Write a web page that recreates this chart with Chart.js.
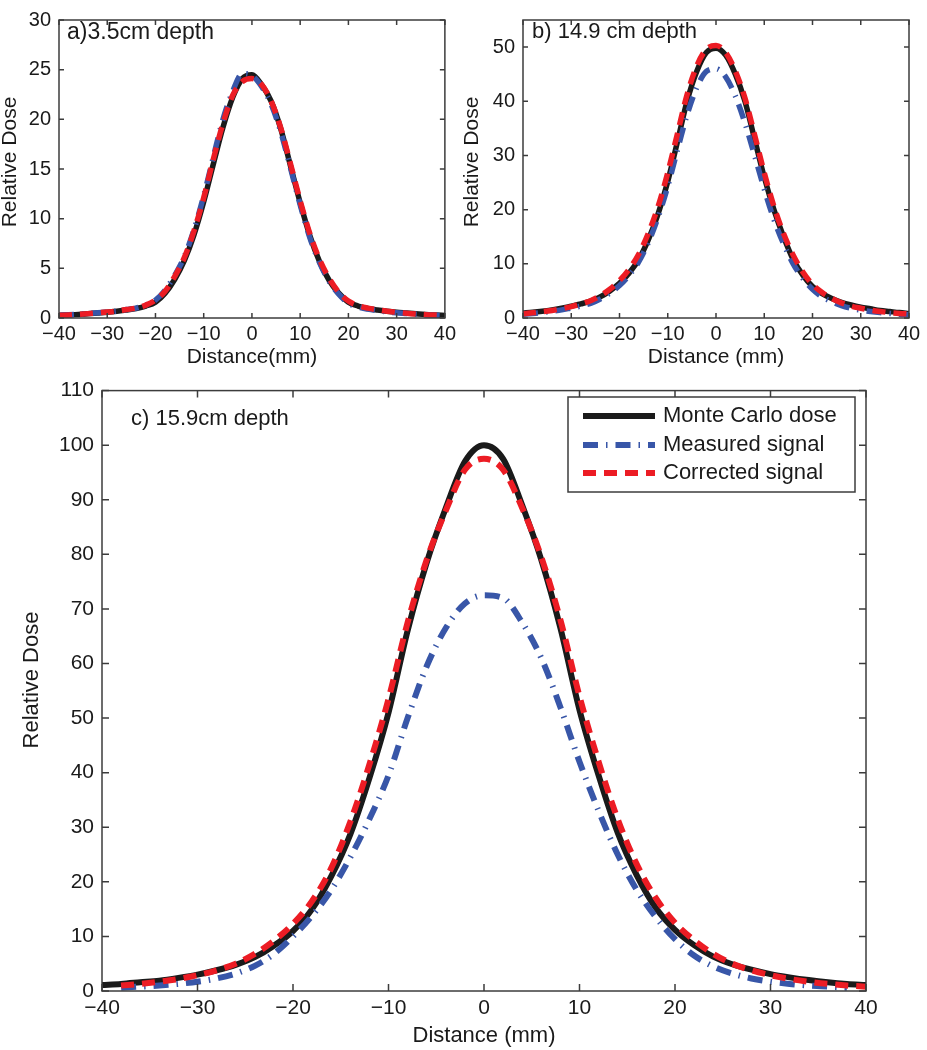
<!DOCTYPE html>
<html lang="en">
<head>
<meta charset="UTF-8">
<title>Relative dose profiles</title>
<script src="https://cdn.jsdelivr.net/npm/chart.js@4.4.0/dist/chart.umd.min.js"></script>
<style>
  body { margin: 0; background: #fff; }
  #wrap { position: relative; width: 927px; height: 1050px; }
  canvas { position: absolute; }
</style>
</head>
<body>
<div id="wrap">
  <canvas id="chartA" width="460" height="370" style="left:0;top:0"></canvas>
  <canvas id="chartB" width="467" height="370" style="left:460px;top:0"></canvas>
  <canvas id="chartC" width="927" height="680" style="left:0;top:370px"></canvas>
</div>
<script>
// distance (mm), shared by every curve
const distance = [-40,-38,-36,-34,-32,-30,-28,-26,-24,-22,-20,-18,-16,-14,-12,-10,-8,-6,-4,-2,0,
                  2,4,6,8,10,12,14,16,18,20,22,24,26,28,30,32,34,36,38,40];

// a) 3.5 cm depth
const aMonteCarlo = [0.25,0.3,0.36,0.42,0.5,0.58,0.68,0.8,0.95,1.2,1.6,2.5,3.9,5.8,8.4,11.7,15.5,19.2,22.2,24.1,24.5,
                     23.5,21.8,19.0,15.3,11.6,8.3,5.7,3.8,2.5,1.6,1.2,0.95,0.8,0.68,0.58,0.5,0.42,0.36,0.3,0.25];
const aMeasured   = [0.28,0.32,0.38,0.45,0.52,0.6,0.7,0.85,1.0,1.3,1.8,2.8,4.3,6.2,8.9,12.3,16.2,20.0,22.8,24.6,24.4,
                     23.3,21.5,18.7,15.1,11.4,8.1,5.6,3.7,2.4,1.5,1.1,0.9,0.75,0.62,0.52,0.45,0.38,0.32,0.27,0.23];
const aCorrected  = [0.27,0.31,0.37,0.44,0.52,0.6,0.7,0.85,1.0,1.3,1.8,2.7,4.2,6.1,8.8,12.1,16.0,19.6,22.4,23.8,24.1,
                     23.5,21.8,19.1,15.5,11.8,8.5,5.9,4.0,2.6,1.7,1.25,1.0,0.82,0.68,0.58,0.48,0.4,0.34,0.3,0.27];

// b) 14.9 cm depth
const bMonteCarlo = [0.9,1.05,1.25,1.5,1.8,2.2,2.6,3.1,3.9,5.0,6.4,8.3,10.8,14.5,19.2,25.2,32.5,40.0,45.5,49.0,49.8,
                     48.5,45.0,40.0,33.0,26.0,20.0,15.0,10.8,7.9,5.8,4.5,3.6,2.9,2.4,2.0,1.7,1.4,1.2,1.0,0.85];
const bMeasured   = [0.7,0.85,1.0,1.25,1.5,1.85,2.2,2.7,3.5,4.6,6.0,7.9,10.4,14.0,18.6,24.3,31.0,37.5,42.5,45.5,46.0,
                     44.5,41.0,36.0,30.0,23.8,18.2,13.7,10.0,7.3,5.3,3.9,3.0,2.3,1.8,1.45,1.2,1.0,0.85,0.7,0.6];
const bCorrected  = [0.8,0.95,1.15,1.4,1.7,2.1,2.6,3.2,4.1,5.3,6.9,9.0,11.8,15.7,20.6,26.8,34.0,41.2,46.5,49.6,50.3,
                     49.0,45.6,40.6,33.8,26.8,20.6,15.6,11.6,8.5,6.2,4.7,3.6,2.8,2.2,1.8,1.45,1.2,1.0,0.85,0.75];

// c) 15.9 cm depth
const cMonteCarlo = [1.1,1.3,1.6,1.9,2.4,3.0,3.8,4.8,6.2,8.3,11.0,15.0,21.0,28.7,39.0,51.0,66.0,78.5,88.5,97.0,100,
                     97.5,89.0,79.0,66.5,51.5,39.5,29.0,21.2,15.2,11.2,8.4,6.3,4.9,3.9,3.1,2.5,2.0,1.6,1.3,1.1];
const cMeasured   = [null,0.6,0.8,1.0,1.3,1.7,2.3,3.2,4.6,6.8,10.0,13.8,18.5,24.5,31.5,39.5,50.0,59.5,66.5,71.0,72.5,
                     72.0,67.5,61.0,52.0,42.0,33.0,25.0,18.5,13.5,9.5,6.5,4.5,3.2,2.3,1.7,1.3,1.0,0.8,0.6,null];
const cCorrected  = [null,1.0,1.3,1.7,2.2,2.9,3.8,5.0,6.8,9.2,12.3,16.5,22.5,31.0,41.5,53.5,67.5,79.0,88.0,95.5,97.5,
                     95.5,88.5,79.5,68.0,54.0,42.0,31.5,23.2,17.0,12.5,9.3,6.8,5.0,3.8,2.9,2.2,1.7,1.3,1.0,0.8];

const xTicks = [-40, 40, 10];           // min, max, step
const FONT = "'Liberation Sans', Arial, sans-serif";
const INK = '#1a1a1a';

const seriesStyle = [
  { label: 'Monte Carlo dose', color: '#1a1a1a', dash: [],             order: 3 },
  { label: 'Measured signal',  color: '#3856a8', dash: [15, 8, 1.5, 8], order: 2 },
  { label: 'Corrected signal', color: '#ec1c24', dash: [13, 8],         order: 1 }
];

// MATLAB-like box with inward ticks, axis titles, panel label and legend
const matlabBox = {
  id: 'matlabBox',
  afterDatasetsDraw(chart, args, o) {
    const ctx = chart.ctx, a = chart.chartArea;
    const x = chart.scales.x, y = chart.scales.y;
    ctx.save();
    ctx.strokeStyle = '#3c3c3c';
    ctx.lineWidth = 1.5;
    ctx.setLineDash([]);
    ctx.strokeRect(a.left, a.top, a.right - a.left, a.bottom - a.top);
    ctx.beginPath();
    x.ticks.forEach(t => {
      const px = x.getPixelForValue(t.value);
      ctx.moveTo(px, a.bottom); ctx.lineTo(px, a.bottom - o.tick);
      ctx.moveTo(px, a.top);    ctx.lineTo(px, a.top + o.tick);
    });
    y.ticks.forEach(t => {
      const py = y.getPixelForValue(t.value);
      ctx.moveTo(a.left, py);  ctx.lineTo(a.left + o.tick, py);
      ctx.moveTo(a.right, py); ctx.lineTo(a.right - o.tick, py);
    });
    ctx.stroke();

    ctx.fillStyle = INK;
    ctx.textAlign = 'center';
    ctx.textBaseline = 'middle';
    ctx.font = o.titleSize + 'px ' + FONT;
    ctx.fillText(o.xTitle, o.xTitleAt[0], o.xTitleAt[1]);
    ctx.save();
    ctx.translate(o.yTitleAt[0], o.yTitleAt[1]);
    ctx.rotate(-Math.PI / 2);
    ctx.fillText('Relative Dose', 0, 0);
    ctx.restore();

    ctx.textAlign = 'left';
    ctx.font = o.labelSize + 'px ' + FONT;
    ctx.fillText(o.label, o.labelAt[0], o.labelAt[1]);

    if (o.legend) {
      const L = o.legend;
      ctx.fillStyle = '#fff';
      ctx.fillRect(L.left, L.top, L.right - L.left, L.bottom - L.top);
      ctx.strokeStyle = '#3c3c3c';
      ctx.lineWidth = 1.5;
      ctx.strokeRect(L.left, L.top, L.right - L.left, L.bottom - L.top);
      chart.data.datasets.forEach((ds, i) => {
        const ry = L.rows[i];
        ctx.beginPath();
        ctx.strokeStyle = ds.borderColor;
        ctx.lineWidth = ds.borderWidth;
        ctx.setLineDash(ds.borderDash);
        ctx.moveTo(L.lineX[0], ry);
        ctx.lineTo(L.lineX[1], ry);
        ctx.stroke();
        ctx.setLineDash([]);
        ctx.fillStyle = INK;
        ctx.font = '22px ' + FONT;
        ctx.fillText(ds.label, L.textX, ry);
      });
    }
    ctx.restore();
  }
};

function makeChart(id, curves, cfg) {
  const datasets = curves.map((vals, i) => ({
    label: seriesStyle[i].label,
    data: distance.map((d, k) => ({ x: d, y: vals[k] })).filter(p => p.y !== null),
    borderColor: seriesStyle[i].color,
    borderWidth: cfg.widths[i],
    borderDash: seriesStyle[i].dash,
    borderCapStyle: 'butt',
    order: seriesStyle[i].order,
    pointRadius: 0,
    cubicInterpolationMode: 'monotone',
    fill: false
  }));
  return new Chart(document.getElementById(id), {
    type: 'line',
    data: { datasets: datasets },
    plugins: [matlabBox],
    options: {
      responsive: false,
      animation: false,
      events: [],
      layout: { padding: cfg.padding },
      plugins: {
        legend: { display: false },
        tooltip: { enabled: false },
        matlabBox: cfg.box
      },
      scales: {
        x: {
          type: 'linear',
          min: xTicks[0], max: xTicks[1],
          grid: { display: false, drawTicks: false },
          border: { display: false },
          afterFit: s => { s.height = cfg.xHeight; },
          ticks: {
            stepSize: xTicks[2], autoSkip: false, maxRotation: 0, padding: cfg.xPad,
            color: INK, font: { family: FONT, size: cfg.tickSize },
            callback: v => String(v).replace('-', '\u2212')
          }
        },
        y: {
          type: 'linear',
          min: 0, max: cfg.yMax,
          grid: { display: false, drawTicks: false },
          border: { display: false },
          afterFit: s => { s.width = cfg.yWidth; },
          ticks: {
            stepSize: cfg.yStep, includeBounds: false, padding: 8,
            color: INK, font: { family: FONT, size: cfg.tickSize }
          }
        }
      }
    }
  });
}

makeChart('chartA', [aMonteCarlo, aMeasured, aCorrected], {
  widths: [5.5, 5.5, 5.5], padding: { left: 0, right: 15, top: 13, bottom: 0 },
  xHeight: 52, yWidth: 59, xPad: 4, yMax: 30, yStep: 5, tickSize: 20,
  box: { tick: 5, titleSize: 21, xTitle: 'Distance(mm)', xTitleAt: [252, 357], yTitleAt: [10, 162],
         label: 'a)3.5cm depth', labelSize: 23, labelAt: [67, 33] }
});

makeChart('chartB', [bMonteCarlo, bMeasured, bCorrected], {
  widths: [5.5, 5.5, 5.5], padding: { left: 0, right: 18, top: 13, bottom: 0 },
  xHeight: 52, yWidth: 63, xPad: 4, yMax: 55, yStep: 10, tickSize: 20,
  box: { tick: 5, titleSize: 21, xTitle: 'Distance (mm)', xTitleAt: [256, 357], yTitleAt: [12, 162],
         label: 'b) 14.9 cm depth', labelSize: 22, labelAt: [72, 32] }
});

makeChart('chartC', [cMonteCarlo, cMeasured, cCorrected], {
  widths: [6, 6, 6], padding: { left: 0, right: 61, top: 16, bottom: 0 },
  xHeight: 59, yWidth: 102, xPad: 5, yMax: 110, yStep: 10, tickSize: 21,
  box: { tick: 7, titleSize: 22, xTitle: 'Distance (mm)', xTitleAt: [484, 666], yTitleAt: [32, 310],
         label: 'c) 15.9cm depth', labelSize: 22, labelAt: [131, 49],
         legend: { left: 568, top: 27, right: 855, bottom: 122, lineX: [583, 655], textX: 663, rows: [46, 75, 103] } }
});
</script>
</body>
</html>
